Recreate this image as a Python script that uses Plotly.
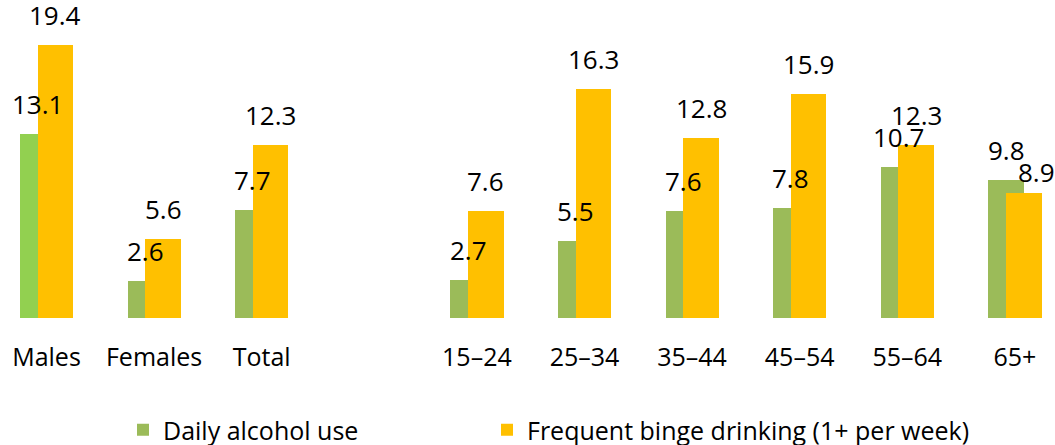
import plotly.graph_objects as go

# Groups shown on the x axis (sex groups, then age groups after a gap)
sex_groups = ["Males", "Females", "Total"]
age_groups = ["15–24", "25–34", "35–44", "45–54", "55–64", "65+"]

# Percentages
daily_sex = [13.1, 2.6, 7.7]
daily_age = [2.7, 5.5, 7.6, 7.8, 10.7, 9.8]
binge_sex = [19.4, 5.6, 12.3]
binge_age = [7.6, 16.3, 12.8, 15.9, 12.3, 8.9]

series_names = ["Daily alcohol use", "Frequent binge drinking (1+ per week)"]

GREEN = "#9BBB59"
GREEN_MALES = "#92D050"
YELLOW = "#FFC000"
FONT = "Open Sans"

labels = sex_groups + age_groups
# one empty slot between the sex and age groups
xpos = list(range(len(sex_groups))) + [len(sex_groups) + 1 + i for i in range(len(age_groups))]
daily = daily_sex + daily_age
binge = binge_sex + binge_age

bar_w = 0.33
green_off = -0.246
yellow_off = -0.082

fig = go.Figure()
fig.add_trace(go.Bar(
    x=xpos, y=daily, name=series_names[0],
    width=bar_w, offset=green_off,
    marker=dict(color=GREEN, line=dict(width=0)),
    legend="legend",
))
# the Males bar of the daily series is highlighted in a brighter green
fig.add_trace(go.Bar(
    x=xpos[:1], y=daily[:1], name=series_names[0],
    width=bar_w, offset=green_off,
    marker=dict(color=GREEN_MALES, line=dict(width=0)),
    showlegend=False,
))
fig.add_trace(go.Bar(
    x=xpos, y=binge, name=series_names[1],
    width=bar_w, offset=yellow_off,
    marker=dict(color=YELLOW, line=dict(width=0)),
    legend="legend2",
))

# label nudges (pixels) for crowded spots: (series index, category) -> (dx, dy)
label_nudge = {(1, "65+"): (13, -9)}

# value labels above each bar, centred on the bar's full width
for s, (vals, off) in enumerate(((daily, green_off), (binge, yellow_off))):
    for x, lab, v in zip(xpos, labels, vals):
        dx, dy = label_nudge.get((s, lab), (0, 0))
        fig.add_annotation(
            x=x + off + bar_w / 2, y=v, text=f"{v:.1f}",
            showarrow=False, yanchor="bottom", yshift=10 + dy, xshift=dx,
            font=dict(family=FONT, size=26, color="#000000"),
        )

W, H = 1055, 445
plot_h = 318
legend_common = dict(
    orientation="h", yanchor="middle", y=-(430 - plot_h) / plot_h,
    xanchor="left", font=dict(family=FONT, size=25, color="#000000"),
    bgcolor="rgba(0,0,0,0)",
)

fig.update_layout(
    width=W, height=H,
    margin=dict(l=0, r=0, t=0, b=H - plot_h, autoexpand=False),
    paper_bgcolor="white", plot_bgcolor="white",
    barmode="overlay",
    bargap=0,
    font=dict(family=FONT, size=25, color="#000000"),
    showlegend=True,
    legend=dict(x=123 / W, **legend_common),
    legend2=dict(x=487 / W, **legend_common),
    xaxis=dict(
        range=[-0.432, 9.373],
        tickmode="array", tickvals=xpos, ticktext=labels,
        showgrid=False, zeroline=False, showline=False, ticks="",
        ticklabelstandoff=22,
        tickfont=dict(family=FONT, size=25, color="#000000"),
    ),
    yaxis=dict(
        range=[0, 22.6], visible=False, showgrid=False, zeroline=False,
    ),
)

fig.write_html("out.html")
